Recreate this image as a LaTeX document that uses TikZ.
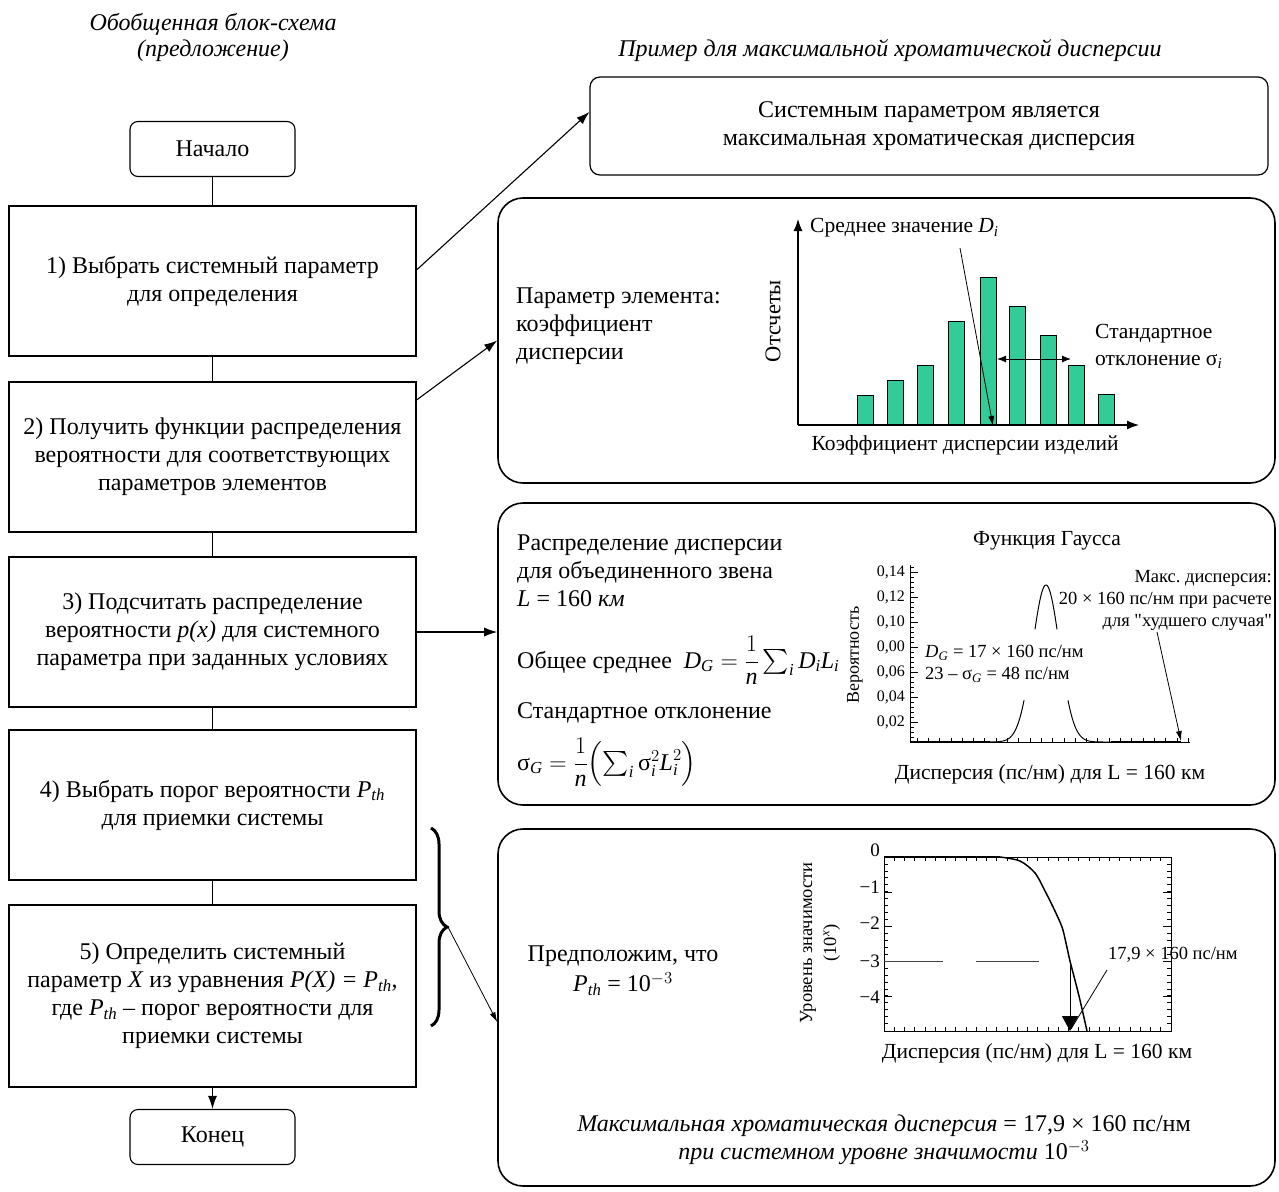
\RequirePackage{fix-cm}
\documentclass[tikz,border=0pt]{standalone}
\usepackage{amsmath}
\usepackage{fontspec}
\setmainfont{Liberation Serif}
\usetikzlibrary{arrows.meta,calc,decorations.pathreplacing}
\definecolor{bargreen}{RGB}{51,204,153}
\newcommand{\fsz}[2]{\fontsize{#1}{#2}\selectfont}
\frenchspacing
\tikzset{
  stepbox/.style={draw, line width=1.1pt, minimum width=407pt, align=center, font=\fsz{24}{28}, inner sep=0pt},
  term/.style={draw, line width=1.1pt, rounded corners=8pt, minimum width=165pt, minimum height=55pt, font=\fsz{24}{28}, inner sep=0pt},
  panel/.style={draw, line width=1.6pt, rounded corners=25pt, minimum width=777pt, inner sep=0pt},
  link/.style={line width=1.3pt},
  arr/.style={line width=1.1pt, -{Latex[length=13pt,width=9pt]}},
  thinarr/.style={line width=0.8pt, -{Latex[length=10pt,width=6pt]}},
  txt/.style={inner sep=0pt, font=\fsz{24}{28}, align=left},
  lbl/.style={inner sep=0pt, font=\fsz{21.5}{27}},
  small/.style={inner sep=0pt, font=\fsz{18.5}{22}},
  tick/.style={line width=0.7pt},
}
\begin{document}
\begin{tikzpicture}[x=1pt,y=-1pt]
\useasboundingbox (0,0) rectangle (1279,1191);

% headings
\node[inner sep=0pt, font=\fsz{24}{26}\itshape, align=center] (hl) at (213,37) {Обобщенная блок-схема\\(предложение)};
\node[inner sep=0pt, font=\fsz{24}{26}\itshape] (hr) at (890,51) {Пример для максимальной хроматической дисперсии};

% left flow chart
\node[term] (start) at (212.5,149) {Начало};
\node[stepbox, minimum height=150pt] (b1) at (212.5,281) {1) Выбрать системный параметр\\для определения};
\node[stepbox, minimum height=150pt] (b2) at (212.5,457) {2) Получить функции распределения\\вероятности для соответствующих\\параметров элементов};
\node[stepbox, minimum height=150pt] (b3) at (212.5,632) {3) Подсчитать распределение\\вероятности \textit{p(x)} для системного\\параметра при заданных условиях};
\node[stepbox, minimum height=150pt] (b4) at (212.5,805) {4) Выбрать порог вероятности \textit{P}$_{\textit{th}}$\\для приемки системы};
\node[stepbox, minimum height=182pt] (b5) at (212.5,996) {5) Определить системный\\параметр \textit{X} из уравнения \textit{P(X) = P}$_{\textit{th}}$,\\где \textit{P}$_{\textit{th}}$ – порог вероятности для\\приемки системы};
\node[term] (end) at (212.5,1137) {Конец};

\draw[link] (start) -- (b1);
\draw[link] (b1) -- (b2);
\draw[link] (b2) -- (b3);
\draw[link] (b3) -- (b4);
\draw[link] (b4) -- (b5);
\draw[arr] (b5) -- (end);

% right panels
\node[panel, minimum width=678pt, minimum height=98pt, rounded corners=10pt, line width=1.2pt, align=center, font=\fsz{24}{28}] (p1) at (929,126) {Системным параметром является\\максимальная хроматическая дисперсия};
\node[panel, minimum height=285pt] (p2) at (886.5,340.5) {};
\node[panel, minimum height=302pt] (p3) at (886.5,654) {};
\node[panel, minimum height=357pt] (p4) at (886.5,1007.5) {};

\draw[arr] ([yshift=11pt]b1.east) -- ([yshift=14pt]p1.west);
\draw[arr] ([yshift=57pt]b2.east) -- (p2.west);
\draw[arr] (b3.east) -- (b3.east -| p3.west);

% brace
\draw[decorate, decoration={brace, amplitude=16pt}, line width=3pt] (431,828) -- (431,1026);
\coordinate (bt) at (448,927);
\draw[thinarr] (bt) -- ([yshift=-14.5pt]p4.west);

% ---------- panel 2: histogram
\node[txt, anchor=west] (p2t) at (516,326) {Параметр элемента:\\коэффициент\\дисперсии};
\foreach \a/\t in {857/395, 887/380, 917/365, 948/321, 980/277, 1009/306, 1040/335, 1068/365, 1098/394}
  \draw[fill=bargreen, line width=1pt] (\a,425) rectangle ({\a+16},\t);
\coordinate (ho) at (798,425);
\coordinate (hy) at (798,219);
\coordinate (hx) at (1139,425);
\draw[line width=1.2pt, -{Latex[length=12pt,width=9pt]}] (ho) -- (hy);
\draw[line width=1.2pt, -{Latex[length=12pt,width=9pt]}] (ho) -- (hx);
\node[lbl, anchor=west] (mean) at (810,228) {Среднее значение \textit{D}$_{\textit{i}}$};
\coordinate (ma) at (960,248);
\coordinate (mb) at (993,426);
\draw[thinarr] (ma) -- (mb);
\coordinate (sa) at (997,359);
\coordinate (sb) at (1071,359);
\draw[line width=1pt, {Latex[length=9pt,width=7pt]}-{Latex[length=9pt,width=7pt]}] (sa) -- (sb);
\node[lbl, anchor=west, align=left] (std) at (1095,346) {Стандартное\\отклонение σ$_{\textit{i}}$};
\node[lbl, font=\fsz{22.5}{27}, rotate=90] (cnt) at (773,321) {Отсчеты};
\node[lbl] (hxl) at (965,445) {Коэффициент дисперсии изделий};

% ---------- panel 3: Gauss
\node[txt, anchor=west] (p3a) at (517,571) {Распределение дисперсии\\для объединенного звена\\\textit{L} = 160 \textit{км}};
\node[txt, anchor=base west] (p3b) at (517,668) {Общее среднее \ $\smash[b]{\textit{D}_{\textit{G}} = \dfrac{1}{\textit{n}}\sum\nolimits_{\textit{i}} \textit{D}_{\textit{i}}\textit{L}_{\textit{i}}}$};
\node[txt, anchor=west] (p3c) at (517,713) {Стандартное отклонение};
\node[txt, anchor=base west] (p3d) at (517,770) {$\smash[t]{\textup{σ}_{\textit{G}} = \dfrac{1}{\textit{n}}\Bigl(\sum\nolimits_{\textit{i}} \textup{σ}_{\textit{i}}^{2}\textit{L}_{\textit{i}}^{2}\Bigr)}$};

\coordinate (go) at (910,742);
\foreach \k in {0,...,35} \draw[tick] (910,{742-5*\k}) -- (914,{742-5*\k});
\foreach \yy/\t in {572/{0,14}, 597/{0,12}, 622/{0,10}, 647/{0,00}, 672/{0,06}, 697/{0,04}, 722/{0,02}} {
  \draw[tick] (910,\yy) -- (918,\yy);
  \node[inner sep=0pt, anchor=east, font=\fsz{16}{20}] at (905,\yy) {\t};
}
\foreach \k in {0,...,24} \draw[tick] ({917+11.3*\k},742) -- ({917+11.3*\k},738);
\draw[line width=1pt] (910,565) -- (go) -- (1190,742);
\draw[line width=2.6pt] (910,742) -- (990,742);
\draw[line width=2.6pt] (1111,742) -- (1181,742);
\draw[line width=1pt] plot[domain=990:1024, samples=40] (\x, {742-157*exp(-((\x-1046)^2)/364.5)});
\draw[line width=1pt] plot[domain=1035:1057, samples=40] (\x, {742-157*exp(-((\x-1046)^2)/364.5)});
\draw[line width=1pt] plot[domain=1068:1111, samples=40] (\x, {742-157*exp(-((\x-1046)^2)/364.5)});
\node[inner sep=0pt, font=\fsz{21.5}{24}] (gt) at (1047,541) {Функция Гаусса};
\node[inner sep=0pt, font=\fsz{18}{22}, rotate=90] (gy) at (855,655) {Вероятность};
\node[inner sep=0pt, font=\fsz{18.5}{22}, anchor=west, align=left] (gd) at (925,664) {\textit{D}$_{\textit{G}}$ = 17 × 160 пс/нм\\23 – σ$_{\textit{G}}$ = 48 пс/нм};
\node[inner sep=0pt, font=\fsz{18.5}{22}, anchor=east, align=right] (gm) at (1272,600) {Макс. дисперсия:\\20 × 160 пс/нм при расчете\\для \textquotedbl худшего случая\textquotedbl};
\coordinate (ga) at (1157,632);
\coordinate (gb) at (1181,741);
\draw[thinarr] (ga) -- (gb);
\node[inner sep=0pt, font=\fsz{21.5}{24}] (gx) at (1050,774) {Дисперсия (пс/нм) для L = 160 км};

% ---------- panel 4
\node[txt, font=\fsz{24}{27}] (p4a) at (623,956) {Предположим, что};
\node[txt, font=\fsz{24}{27}] (p4b) at (623,984) {\textit{P}$_{\textit{th}}$ = 10$^{-3}$};
\foreach \k in {1,...,24} {
  \draw[tick] (884,{857+6.94*\k}) -- (888,{857+6.94*\k});
  \draw[tick] (1171,{857+6.94*\k}) -- (1167,{857+6.94*\k});
}
\foreach \yy in {892,926,961,996} {
  \draw[tick] (884,\yy) -- (892,\yy);
  \draw[tick] (1171,\yy) -- (1163,\yy);
}
\foreach \k in {1,...,27} {
  \draw[tick] ({884+10.25*\k},857) -- ({884+10.25*\k},861);
  \draw[tick] ({884+10.25*\k},1031) -- ({884+10.25*\k},1027);
}
\draw[line width=1pt] (884,857) rectangle (1171,1031);
\foreach \yy/\t in {850/0, 887/−1, 923/−2, 961/−3, 997/−4}
  \node[inner sep=0pt, anchor=east, font=\fsz{19}{22}] at (880,\yy) {\t};
\draw[line width=1pt, black!75] (884,961) -- (943,961);
\draw[line width=1pt, black!75] (976,961) -- (1039,961);
\draw[line width=1.6pt] (884,857) -- (1000,857);
\draw[line width=1.5pt] plot[smooth] coordinates {(1000,857) (1020,861) (1035,873) (1045,891) (1054,909) (1062,927) (1066,943) (1070,961) (1079,996) (1087,1031)};
\coordinate (pa) at (1070,961);
\coordinate (pb) at (1070,1031);
\draw[line width=1pt, -{Triangle[length=15pt,width=16pt]}] (pa) -- (pb);
\coordinate (la) at (1107,970);
\coordinate (lb) at (1071,1029);
\draw[line width=0.8pt] (la) -- (lb);
\node[small, anchor=west] (l179) at (1108,955) {17,9 × 160 пс/нм};
\node[inner sep=0pt, font=\fsz{18.5}{24}, rotate=90, align=center] (uy) at (820,943) {Уровень значимости\\(10$^{\textit{x}}$)};
\node[inner sep=0pt, font=\fsz{21.5}{24}] (px) at (1037,1053) {Дисперсия (пс/нм) для L = 160 км};
\node[inner sep=0pt, font=\fsz{24}{28}, align=center] (concl) at (884,1140) {\textit{Максимальная хроматическая дисперсия} = 17,9 × 160 пс/нм\\\textit{при системном уровне значимости} 10$^{-3}$};
\end{tikzpicture}
\end{document}
